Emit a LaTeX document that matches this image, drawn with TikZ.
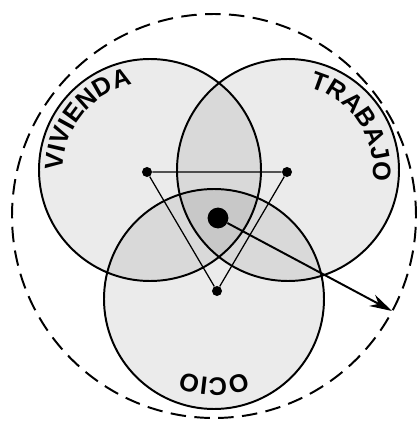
\documentclass[tikz,border=0pt]{standalone}
\usepackage{fontspec}
\setsansfont{Liberation Sans}
\usepackage{tikz}
\usetikzlibrary{arrows.meta}
\usetikzlibrary{decorations.text}
\newcommand{\zonefont}{\fontsize{18}{18}\selectfont\sffamily\bfseries}

\begin{document}
\begin{tikzpicture}[x=0.025cm,y=0.025cm,
    zone/.style={fill=black,fill opacity=0.08},
    rim/.style={black,line width=1.4pt},
    dot/.style={circle,fill=black,inner sep=0pt,minimum size=0.25cm},
    bigdot/.style={circle,fill=black,inner sep=0pt,minimum size=0.52cm}]
  \useasboundingbox (0,0) rectangle (418,423);

  \coordinate (cviv) at (150,253);
  \coordinate (ctra) at (288,253);
  \coordinate (cocio) at (214,124);
  \coordinate (cout) at (214,207);
  \coordinate (tip) at (392,112);

  % the three zones
  \fill[zone] (cviv) circle[radius=111];
  \fill[zone] (ctra) circle[radius=111];
  \fill[zone] (cocio) circle[radius=110];
  \draw[rim] (cviv) circle[radius=111];
  \draw[rim] (ctra) circle[radius=111];
  \draw[rim] (cocio) circle[radius=110];
  \draw[rim,dash pattern=on 11pt off 6pt] (cout) circle[radius=202];

  \path[decorate,decoration={text along path,text align=center,
      text={|\zonefont|VIVIENDA}}]
    (cviv) ++(190:87) arc[start angle=190,end angle=92,radius=87];
  \path[decorate,decoration={text along path,text align=center,
      text={|\zonefont|TRABAJO}}]
    (ctra) ++(90:85) arc[start angle=90,end angle=-22,radius=85];
  \path[decorate,decoration={text along path,text align=center,
      text={|\zonefont|OCIO}}]
    (cocio) ++(315:79) arc[start angle=315,end angle=225,radius=79];

  \node[dot] (dviv) at (147,251) {};
  \node[dot] (dtra) at (287,251) {};
  \node[dot] (docio) at (217,132) {};
  \node[bigdot] (big) at (218,205) {};

  \draw [black,line width=0.9pt] (dviv) -- (dtra) -- (docio) -- (dviv);
  \draw [-{Stealth[length=16pt,width=9pt]}][black,line width=1.4pt] (big) -- (tip);
\end{tikzpicture}
\end{document}
